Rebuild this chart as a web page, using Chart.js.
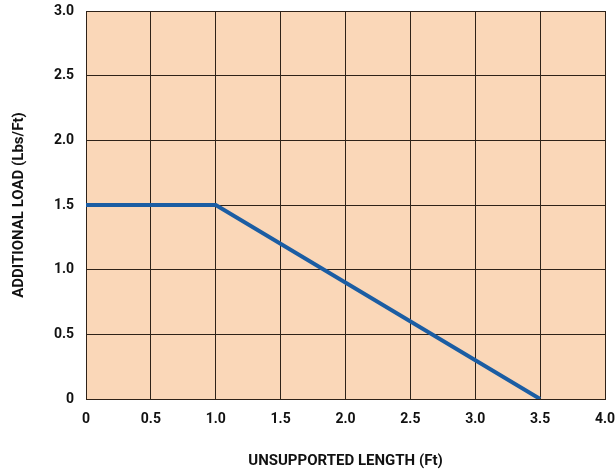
<!DOCTYPE html>
<html><head><meta charset="utf-8">
<script src="https://cdn.jsdelivr.net/npm/chart.js@4/dist/chart.umd.min.js"></script>
<style>html,body{margin:0;padding:0;background:#fff}#wrap{width:615px;height:475px}</style>
</head><body><div id="wrap"><canvas id="c"></canvas></div>
<script>
const lengthFt = [0, 1.0, 3.5];
const loadLbsFt = [1.5, 1.5, 0];
const xTicks = [0, 0.5, 1.0, 1.5, 2.0, 2.5, 3.0, 3.5, 4.0];
const yTicks = [0, 0.5, 1.0, 1.5, 2.0, 2.5, 3.0];
const xTitle = 'UNSUPPORTED LENGTH (Ft)';
const yTitle = 'ADDITIONAL LOAD (Lbs/Ft)';

const FONT = "'Roboto', 'Liberation Sans', sans-serif";
const fmt = v => v === 0 ? '0' : v.toFixed(1);

const bgPlugin = {
  id: 'bg',
  beforeDraw(chart) {
    const {ctx, chartArea: a} = chart;
    ctx.save();
    ctx.fillStyle = '#fad7b8';
    ctx.fillRect(a.left, a.top, a.right - a.left, a.bottom - a.top);
    ctx.restore();
  }
};

new Chart(document.getElementById('c'), {
  type: 'scatter',
  data: {
    datasets: [{
      data: lengthFt.map((x, i) => ({x, y: loadLbsFt[i]})),
      showLine: true,
      borderColor: '#1b5da3',
      borderWidth: 4,
      pointRadius: 0,
      fill: false
    }]
  },
  options: {
    responsive: true,
    maintainAspectRatio: false,
    animation: false,
    layout: {padding: {top: 11, right: 10, left: 6, bottom: 0}},
    plugins: {legend: {display: false}, tooltip: {enabled: false}},
    scales: {
      x: {
        type: 'linear', min: 0, max: 4,
        afterBuildTicks: s => { s.ticks = xTicks.map(v => ({value: v})); },
        afterFit: s => { s.height = 76; s.paddingLeft = 0; s.paddingRight = 0; },
        grid: {color: '#2e2218', lineWidth: 1, drawTicks: false},
        border: {color: '#2e2218', width: 1},
        ticks: {color: '#111', padding: 12, font: {family: FONT, size: 14, weight: 'bold'}, callback: v => fmt(v), maxRotation: 0},
        title: {display: true, text: xTitle, color: '#111', font: {family: FONT, size: 15, weight: 'bold'}, padding: {top: 4, bottom: 5}}
      },
      y: {
        type: 'linear', min: 0, max: 3,
        afterBuildTicks: s => { s.ticks = yTicks.map(v => ({value: v})); },
        afterFit: s => { s.width = 80; s.paddingTop = 0; s.paddingBottom = 0; },
        grid: {color: '#2e2218', lineWidth: 1, drawTicks: false},
        border: {color: '#2e2218', width: 1},
        ticks: {color: '#111', padding: 12, font: {family: FONT, size: 14, weight: 'bold'}, callback: v => fmt(v)},
        title: {display: true, text: yTitle, color: '#111', font: {family: FONT, size: 15, weight: 'bold'}, padding: {top: 4, bottom: 4}}
      }
    }
  },
  plugins: [bgPlugin]
});
</script></body></html>
